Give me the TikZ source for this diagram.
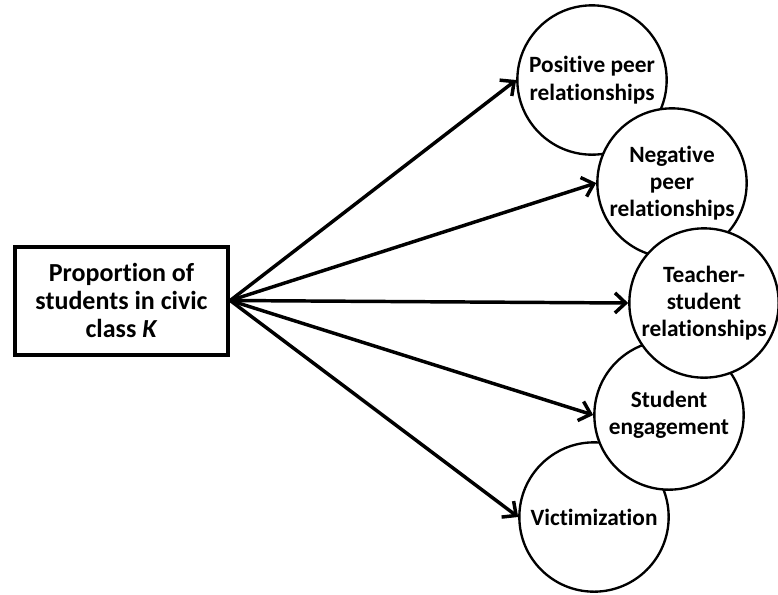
\documentclass[tikz,border=0pt]{standalone}
\usepackage{fontspec}
\setmainfont{Carlito}[Ligatures=NoCommon]
\usetikzlibrary{arrows.meta}

\begin{document}
\begin{tikzpicture}[x=.75pt, y=-.75pt, >={Straight Barb[length=8pt,width=15pt]},
  every node/.style={align=center},
  outcome/.style={circle, draw, line width=1.75pt, fill=white, minimum size=112pt, inner sep=0pt,
    font=\fontsize{17.5}{20.5}\selectfont\bfseries},
  predictor/.style={rectangle, draw, line width=3pt, fill=white, minimum width=160pt, minimum height=81pt,
    font=\fontsize{19.5}{21}\selectfont\bfseries}]
\useasboundingbox (0,0) rectangle (778,594);
% outcomes, drawn so the overlaps come out right
\node[outcome](pos) at (592,80){Positive peer\\relationships};
\node[outcome](neg) at (672,183){Negative\\peer\\relationships};
\node[outcome](vic) at (594,517){Victimization};
\node[outcome](eng) at (669,415){Student\\engagement};
\node[outcome](teach) at (704,303){Teacher-\\student\\relationships};
\node[predictor](box) at (121.5,300.5){Proportion of\\students in civic\\class \textit{K}};
\foreach \n in {pos,neg,teach,eng,vic}
{
    \draw[->, line width=2.6pt](box.east)--(\n.west);
}

\end{tikzpicture}
\end{document}
